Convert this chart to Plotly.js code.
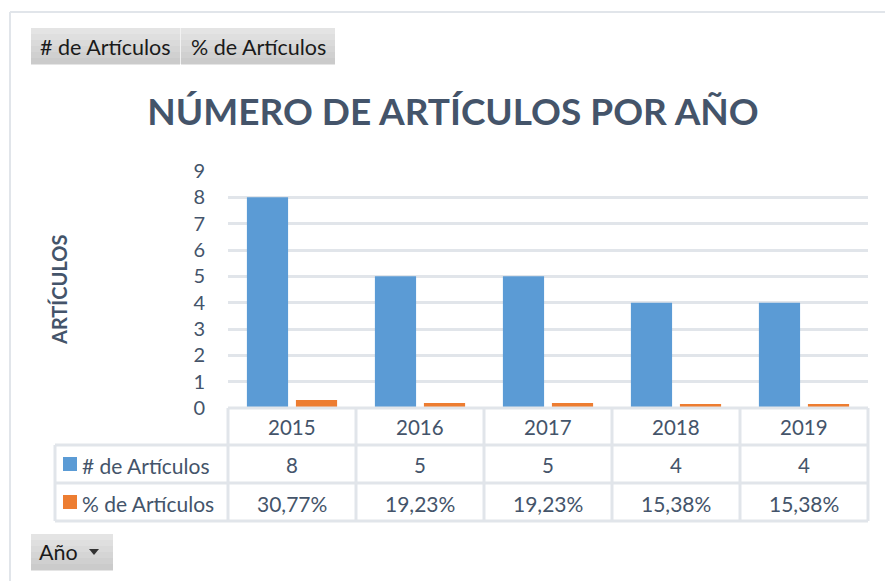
<!DOCTYPE html>
<html>
<head>
<meta charset="utf-8">
<script src="https://cdn.plot.ly/plotly-3.0.1.min.js"></script>
<style>
html,body{margin:0;padding:0;background:#fff;}
#chart{width:885px;height:581px;}
</style>
</head>
<body>
<div id="chart"></div>
<script>
// ---- data ----
const years = ['2015', '2016', '2017', '2018', '2019'];
const numArticulos = [8, 5, 5, 4, 4];
const pctArticulos = [0.3077, 0.1923, 0.1923, 0.1538, 0.1538];
const pctLabels = ['30,77%', '19,23%', '19,23%', '15,38%', '15,38%'];
const seriesNames = ['# de Artículos', '% de Artículos'];
const yTicks = [0, 1, 2, 3, 4, 5, 6, 7, 8, 9];
const chartTitle = 'NÚMERO DE ARTÍCULOS POR AÑO';
const yTitle = 'ARTÍCULOS';
const fieldButtons = ['# de Artículos', '% de Artículos'];
const axisButton = 'Año';

// ---- layout helpers ----
const W = 885, H = 581;
const px = x => x / W;
const py = y => 1 - y / H;
const FONT = 'Lato, "Open Sans", sans-serif';
const TXT = '#44546a';
const GRID = '#e1e5ea';
const BLUE = '#5b9bd5';
const ORANGE = '#ed7d31';

const traces = [
  {type: 'bar', name: seriesNames[0], x: years, y: numArticulos,
   marker: {color: BLUE}, hoverinfo: 'x+y'},
  {type: 'bar', name: seriesNames[1], x: years, y: pctArticulos,
   marker: {color: ORANGE}, hoverinfo: 'x+y'}
];

const shapes = [];
const annotations = [];

// outer frame
shapes.push({type: 'line', xref: 'paper', yref: 'paper', x0: px(10), x1: 1, y0: py(12), y1: py(12), line: {color: GRID, width: 2}});
shapes.push({type: 'line', xref: 'paper', yref: 'paper', x0: px(10), x1: px(10), y0: py(12), y1: 0, line: {color: GRID, width: 2}});

// table lines
const rowY = [408, 445, 483, 521];
const colX0 = 228, colW = 128, labelX0 = 55;
const tline = {color: GRID, width: 3};
rowY.forEach((y, i) => {
  shapes.push({type: 'line', xref: 'paper', yref: 'paper',
    x0: px(i === 0 ? colX0 : labelX0), x1: px(colX0 + colW * years.length),
    y0: py(y), y1: py(y), line: tline});
});
shapes.push({type: 'line', xref: 'paper', yref: 'paper', x0: px(labelX0), x1: px(labelX0), y0: py(445), y1: py(521), line: tline});
for (let k = 0; k <= years.length; k++) {
  const x = colX0 + colW * k;
  shapes.push({type: 'line', xref: 'paper', yref: 'paper', x0: px(x), x1: px(x), y0: py(408), y1: py(521), line: tline});
}

// table texts
const tFont = {family: FONT, size: 21, color: TXT};
const nFont = {family: FONT, size: 20.5, color: TXT};
years.forEach((yr, i) => {
  const cx = px(colX0 + colW * i + colW / 2);
  annotations.push({xref: 'paper', yref: 'paper', x: cx, y: py(427), text: yr, showarrow: false, font: nFont, xanchor: 'center', yanchor: 'middle'});
  annotations.push({xref: 'paper', yref: 'paper', x: cx, y: py(465), text: String(numArticulos[i]), showarrow: false, font: nFont, xanchor: 'center', yanchor: 'middle'});
  annotations.push({xref: 'paper', yref: 'paper', x: cx, y: py(503), text: pctLabels[i], showarrow: false, font: tFont, xanchor: 'center', yanchor: 'middle'});
});
// legend keys
[[BLUE, 457, 465], [ORANGE, 495, 503]].forEach(([c, top, mid], i) => {
  shapes.push({type: 'rect', xref: 'paper', yref: 'paper', x0: px(63), x1: px(77), y0: py(top), y1: py(top + 14), fillcolor: c, line: {width: 0}});
  annotations.push({xref: 'paper', yref: 'paper', x: px(80), y: py(mid), text: seriesNames[i], showarrow: false, font: tFont, xanchor: 'left', yanchor: 'middle'});
});

// field buttons
function button(x0, x1, y0, y1) {
  const n = 6, h = (y1 - y0) / n;
  for (let j = 0; j < n; j++) {
    const v = Math.round(228 - j * 5);
    shapes.push({type: 'rect', xref: 'paper', yref: 'paper', x0: px(x0), x1: px(x1), y0: py(y0 + j * h), y1: py(y0 + (j + 1) * h + 0.5),
      fillcolor: `rgb(${v},${v},${v})`, line: {width: 0}, layer: 'below'});
  }
}
button(31, 180, 28, 64);
button(181, 335, 28, 64);
shapes.push({type: 'line', xref: 'paper', yref: 'paper', x0: px(180.5), x1: px(180.5), y0: py(28), y1: py(64), line: {color: '#f2f2f2', width: 1}});
button(31, 113, 534, 570);
const bFont = {family: FONT, size: 21.5, color: '#1a1a1a'};
annotations.push({xref: 'paper', yref: 'paper', x: px(105.5), y: py(47), text: fieldButtons[0], showarrow: false, font: bFont, xanchor: 'center', yanchor: 'middle'});
annotations.push({xref: 'paper', yref: 'paper', x: px(258), y: py(47), text: fieldButtons[1], showarrow: false, font: bFont, xanchor: 'center', yanchor: 'middle'});
annotations.push({xref: 'paper', yref: 'paper', x: px(37), y: py(552), text: axisButton, showarrow: false, font: bFont, xanchor: 'left', yanchor: 'middle'});
shapes.push({type: 'path', xref: 'paper', yref: 'paper',
  path: `M ${px(89)} ${py(549)} L ${px(99)} ${py(549)} L ${px(94)} ${py(555)} Z`,
  fillcolor: '#333', line: {width: 0}});

// y-axis title
annotations.push({xref: 'paper', yref: 'paper', x: px(59), y: py(290), text: '<b>' + yTitle + '</b>', textangle: -90, showarrow: false,
  font: {family: FONT, size: 20, color: TXT}, xanchor: 'center', yanchor: 'middle'});

const layout = {
  width: W, height: H,
  margin: {l: 0, r: 0, t: 0, b: 0},
  paper_bgcolor: '#fff', plot_bgcolor: '#fff',
  showlegend: false,
  barmode: 'group', bargap: 0.234, bargroupgap: 0.16,
  title: {text: '<b>' + chartTitle + '</b>', x: px(453), xanchor: 'center', y: py(112), yanchor: 'middle',
    font: {family: FONT, size: 37, color: TXT}},
  xaxis: {domain: [px(228), px(868)], showticklabels: false, showgrid: false, zeroline: false, showline: false, ticks: ''},
  yaxis: {domain: [py(408), py(171)], range: [0, 9], tickvals: yTicks, ticks: 'outside', ticklen: 18, tickcolor: 'rgba(0,0,0,0)',
    showgrid: true, gridcolor: GRID, gridwidth: 3, zeroline: false, showline: false,
    tickfont: {family: FONT, size: 20, color: TXT}},
  shapes: shapes,
  annotations: annotations
};

Plotly.newPlot('chart', traces, layout, {displayModeBar: false, staticPlot: true});
</script>
</body>
</html>
